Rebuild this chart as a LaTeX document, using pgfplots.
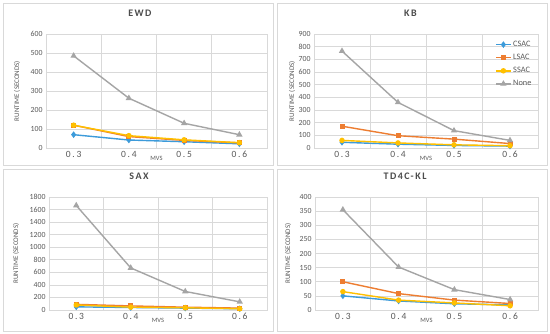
\documentclass[border=0pt]{standalone}
\usepackage{pgfplots}
\pgfplotsset{compat=1.18}
\usepackage{fontspec}
\setmainfont{Carlito}
\newfontfamily\tickfont[LetterSpace=18]{Carlito}
\newfontfamily\titlefont[LetterSpace=15]{Carlito}
\definecolor{cblue}{HTML}{3D9BDA}
\definecolor{corange}{HTML}{ED7D31}
\definecolor{cyellow}{HTML}{FFC000}
\definecolor{cgray}{HTML}{A5A5A5}
\definecolor{gridc}{HTML}{D9D9D9}
\definecolor{txt}{HTML}{595959}
\pgfplotsset{
  panel/.style={
    scale only axis,
    anchor=south west,
    xmin=-0.5, xmax=3.5,
    xtick={0,1,2,3},
    xticklabels={0.3,0.4,0.5,0.6},
    minor xtick={0.5,1.5,2.5},
    xminorgrids=true,
    ymajorgrids=true,
    ymin=0,
    major tick length=0pt, minor tick length=0pt,
    axis line style={gridc},
    grid style={gridc, line width=0.6pt},
    minor grid style={gridc, line width=0.6pt},
    /pgf/number format/assume math mode=true,
    /pgf/number format/1000 sep={},
    xticklabel style={font=\tickfont\fontsize{9.5}{10}\selectfont, text=txt},
    yticklabel style={font=\fontsize{7.8}{8}\selectfont, text=txt},
    xlabel={MVS},
    xlabel style={at={(axis description cs:0.5,0)}, anchor=center, yshift=-10pt, font=\fontsize{6.5}{7}\selectfont, text=txt},
    ylabel={RUNTIME (SECONDS)},
    ylabel style={font=\fontsize{7}{8}\selectfont, text=txt, anchor=center},
    title style={font=\titlefont\bfseries\fontsize{10}{11}\selectfont, text=txt!85!black, anchor=center},
    every axis plot/.append style={line width=1.4pt},
    legend cell align=left,
  },
  sCSAC/.style={cblue, mark=diamond*, mark size=2.2pt, mark options={solid}},
  sLSAC/.style={corange, mark=square*, mark size=1.8pt},
  sSSAC/.style={cyellow, mark=*, mark size=2pt},
  sNone/.style={cgray, mark=triangle*, mark size=2.3pt},
}
\begin{document}
\begin{tikzpicture}[x=1pt,y=1pt]
\useasboundingbox (0,0) rectangle (550,334);
\fill[white] (0,0) rectangle (550,334);
\draw[gridc, line width=0.7pt] (3,169) rectangle (273,331);
\draw[gridc, line width=0.7pt] (277,169) rectangle (547,331);
\draw[gridc, line width=0.7pt] (3,3) rectangle (273,165);
\draw[gridc, line width=0.7pt] (277,3) rectangle (547,165);

% EWD
\begin{axis}[panel, at={(46pt,186pt)}, width=221pt, height=114pt,
  ymax=600, ytick={0,100,...,600},
  title={EWD}, title style={at={(axis description cs:0.425,1.13)}},
  ylabel style={at={(axis description cs:-0.131,0.5)}}]
\addplot[sCSAC] coordinates {(0,70) (1,42) (2,33) (3,22)};
\addplot[sLSAC] coordinates {(0,120) (1,60) (2,40) (3,27)};
\addplot[sSSAC] coordinates {(0,120) (1,65) (2,43) (3,28)};
\addplot[sNone] coordinates {(0,485) (1,262) (2,130) (3,70)};
\end{axis}

% KB
\begin{axis}[panel, at={(314pt,186pt)}, width=224pt, height=114pt,
  ymax=900, ytick={0,100,...,900},
  title={KB}, title style={at={(axis description cs:0.43,1.13)}},
  ylabel style={at={(axis description cs:-0.098,0.5)}},
  legend style={at={(axis description cs:0.985,0.965)}, anchor=north east, draw=none, fill=none,
    font=\fontsize{8.3}{9}\selectfont, text=txt, row sep=2.2pt, inner sep=1pt},
  legend image code/.code={\draw[#1, line width=1.2pt] (0cm,0cm) -- (0.5cm,0cm); \draw[#1, mark repeat=2, mark phase=2] plot coordinates {(0cm,0cm) (0.25cm,0cm) (0.5cm,0cm)};}]
\addplot[sCSAC] coordinates {(0,45) (1,30) (2,20) (3,15)};
\addplot[sLSAC] coordinates {(0,172) (1,97) (2,70) (3,35)};
\addplot[sSSAC] coordinates {(0,60) (1,40) (2,25) (3,18)};
\addplot[sNone] coordinates {(0,765) (1,360) (2,137) (3,60)};
\legend{CSAC,LSAC,SSAC,None}
\end{axis}

% SAX
\begin{axis}[panel, at={(49pt,24pt)}, width=218pt, height=113pt,
  ymax=1800, ytick={0,200,...,1800},
  title={SAX}, title style={at={(axis description cs:0.413,1.13)}},
  ylabel style={at={(axis description cs:-0.151,0.5)}}]
\addplot[sCSAC] coordinates {(0,50) (1,40) (2,30) (3,20)};
\addplot[sLSAC] coordinates {(0,90) (1,65) (2,45) (3,30)};
\addplot[sSSAC] coordinates {(0,80) (1,45) (2,35) (3,20)};
\addplot[sNone] coordinates {(0,1665) (1,670) (2,295) (3,130)};
\end{axis}

% TD4C-KL
\begin{axis}[panel, at={(315pt,24pt)}, width=223pt, height=113pt,
  ymax=400, ytick={0,50,...,400},
  title={TD4C-KL}, title style={at={(axis description cs:0.404,1.13)}},
  ylabel style={at={(axis description cs:-0.121,0.5)}}]
\addplot[sCSAC] coordinates {(0,50) (1,32) (2,22) (3,18)};
\addplot[sLSAC] coordinates {(0,100) (1,58) (2,35) (3,23)};
\addplot[sSSAC] coordinates {(0,65) (1,35) (2,25) (3,15)};
\addplot[sNone] coordinates {(0,355) (1,152) (2,72) (3,37)};
\end{axis}
\end{tikzpicture}
\end{document}
